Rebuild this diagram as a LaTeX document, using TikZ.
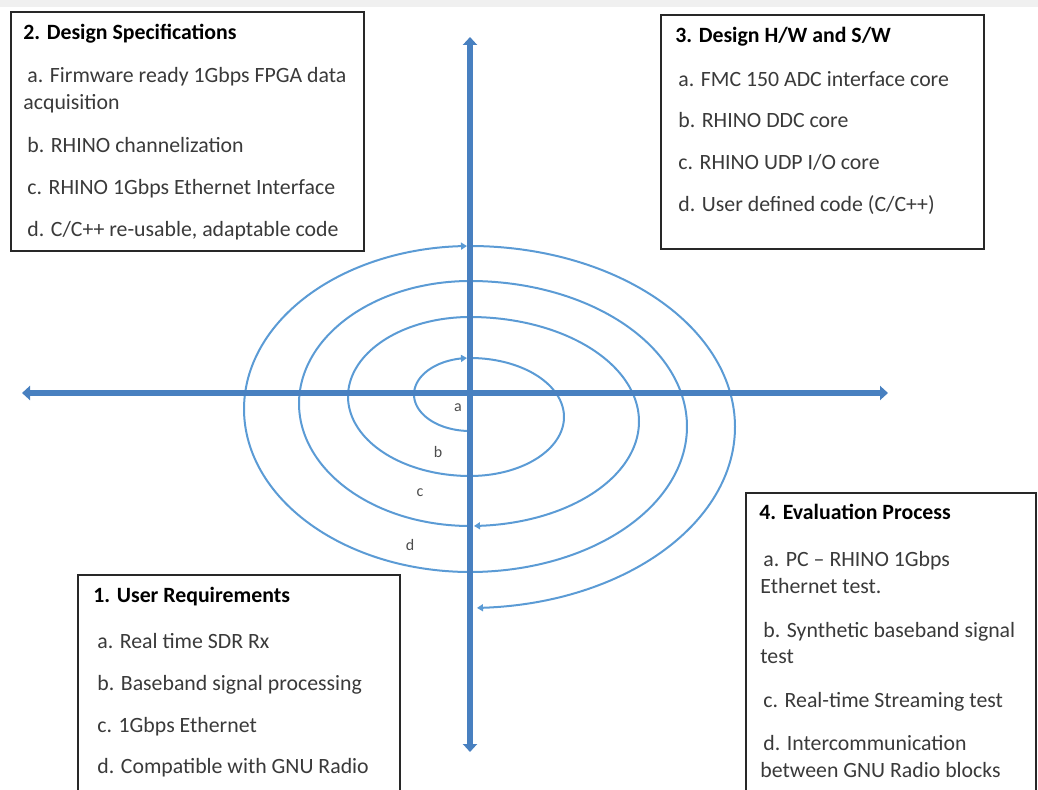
\documentclass[tikz,border=0pt]{standalone}
\usepackage{fontspec}
\setmainfont{Carlito}
\usetikzlibrary{arrows.meta}
\definecolor{axisblue}{RGB}{72,128,192}
\definecolor{spiralblue}{RGB}{91,155,213}
\definecolor{boxline}{RGB}{40,40,40}
\definecolor{itemgray}{RGB}{58,58,58}
\begin{document}
\begin{tikzpicture}[x=0.5pt,y=-0.5pt,
  axisline/.style={draw=axisblue, line width=3pt,
    {Triangle[length=4pt,width=7pt]}-{Triangle[length=4pt,width=7pt]}},
  spiralline/.style={draw=spiralblue, line width=1pt,
    -{Triangle[length=3pt,width=3.5pt]}},
  panel/.style={draw=boxline, line width=1.3pt, fill=white},
  heading/.style={anchor=base west, inner sep=0pt,
    font=\fontsize{10.9}{13}\selectfont\bfseries, text=black},
  item/.style={anchor=base west, inner sep=0pt,
    font=\fontsize{10.9}{13}\selectfont, text=itemgray},
  turnlabel/.style={inner sep=0pt, font=\fontsize{8}{9}\selectfont, text=black!70}]

\useasboundingbox (0,0) rectangle (1038,790);
\clip (0,0) rectangle (1038,790);

% faint band along the top edge
\fill[gray!12] (0,0) rectangle (1038,7);

% spiral, drawn as half ellipses around the vertical axis
\draw[spiralline] plot[domain=90:266.9, samples=60]
  ({470+56*cos(\x)},{394.5+36.5*sin(\x)});
\draw[spiralline]
  plot[domain=-90:90, samples=80] ({470+94*cos(\x)},{417+59*sin(\x)})
  -- plot[domain=90:270, samples=80] ({470+122*cos(\x)},{396.5+79.5*sin(\x)})
  -- plot[domain=-90:88.64, samples=100] ({470+169*cos(\x)},{421.5+104.5*sin(\x)});
\draw[spiralline]
  plot[domain=90:270, samples=100] ({470+171*cos(\x)},{403.5+122.5*sin(\x)})
  -- plot[domain=-90:90, samples=110] ({470+217*cos(\x)},{426.5+145.5*sin(\x)})
  -- plot[domain=90:269.24, samples=120] ({470+226*cos(\x)},{409+163*sin(\x)});
\draw[spiralline] plot[domain=-90:88.49, samples=130]
  ({470+265*cos(\x)},{427+181*sin(\x)});

% turn labels
\node[turnlabel] (la) at (458,408) {a};
\node[turnlabel] (lb) at (438,452) {b};
\node[turnlabel] (lc) at (420,493) {c};
\node[turnlabel] (ld) at (410,545) {d};

% axes
\coordinate (west) at (22,393);
\coordinate (east) at (888,393);
\coordinate (north) at (470,37);
\coordinate (south) at (470,752);
\draw[axisline] (west) -- (east);
\draw[axisline] (north) -- (south);

% 2. Design Specifications
\draw[panel] (11,12) rectangle (364,251);
\node[heading] (h2) at (23,40) {2. Design Specifications};
\node[item] (s2a) at (27,83) {a. Firmware ready 1Gbps FPGA data};
\node[item] (s2a2) at (23,110) {acquisition};
\node[item] (s2b) at (27,153) {b. RHINO channelization};
\node[item] (s2c) at (27,195) {c. RHINO 1Gbps Ethernet Interface};
\node[item] (s2d) at (27,237) {d. C/C++ re-usable, adaptable code};

% 3. Design H/W and S/W
\draw[panel] (661,15) rectangle (984,249);
\node[heading] (h3) at (675,43) {3. Design H/W and S/W};
\node[item] (s3a) at (678,87) {a. FMC 150 ADC interface core};
\node[item] (s3b) at (678,128) {b. RHINO DDC core};
\node[item] (s3c) at (678,170) {c. RHINO UDP I/O core};
\node[item] (s3d) at (678,212) {d. User defined code (C/C++)};

% 1. User Requirements
\draw[panel] (78,575) rectangle (400,800);
\node[heading] (h1) at (93,603) {1. User Requirements};
\node[item] (s1a) at (97,648) {a. Real time SDR Rx};
\node[item] (s1b) at (97,690) {b. Baseband signal processing};
\node[item] (s1c) at (97,732) {c. 1Gbps Ethernet};
\node[item] (s1d) at (97,773) {d. Compatible with GNU Radio};

% 4. Evaluation Process
\draw[panel] (746,493) rectangle (1036,800);
\node[heading] (h4) at (759,520) {4. Evaluation Process};
\node[item] (s4a) at (763,567) {a. PC – RHINO 1Gbps};
\node[item] (s4a2) at (760,593) {Ethernet test.};
\node[item] (s4b) at (763,637) {b. Synthetic baseband signal};
\node[item] (s4b2) at (760,663) {test};
\node[item] (s4c) at (763,707) {c. Real-time Streaming test};
\node[item] (s4d) at (763,750) {d. Intercommunication};
\node[item] (s4d2) at (760,777) {between GNU Radio blocks};

\end{tikzpicture}
\end{document}
